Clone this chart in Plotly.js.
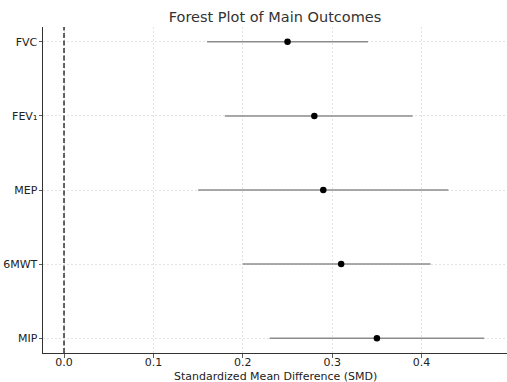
<!DOCTYPE html>
<html><head><meta charset="utf-8">
<script src="https://cdn.plot.ly/plotly-3.0.1.min.js"></script>
<style>html,body{margin:0;padding:0;background:#fff}</style>
</head><body>
<div id="chart" style="width:507px;height:382px"></div>
<script>
const outcomes = ['FVC', 'FEV\u2081', 'MEP', '6MWT', 'MIP'];
const smd = [0.25, 0.28, 0.29, 0.31, 0.35];
const ciLow = [0.16, 0.18, 0.15, 0.20, 0.23];
const ciHigh = [0.34, 0.39, 0.43, 0.41, 0.47];
const xTicks = [0.0, 0.1, 0.2, 0.3, 0.4];
const xTitle = 'Standardized Mean Difference (SMD)';

const font = "DejaVu Sans";
const ciTraces = outcomes.map((o, i) => ({
  type: 'scatter', mode: 'lines',
  x: [ciLow[i], ciHigh[i]], y: [o, o],
  line: {color: '#8c8c8c', width: 1.5},
  hoverinfo: 'skip', showlegend: false
}));
const pts = {
  type: 'scatter', mode: 'markers',
  x: smd, y: outcomes,
  marker: {color: '#000', size: 6.5},
  showlegend: false
};
const layout = {
  width: 507, height: 382,
  margin: {l: 43, r: 0, t: 27, b: 29},
  paper_bgcolor: '#fff', plot_bgcolor: '#fff',
  title: {text: 'Forest Plot of Main Outcomes', font: {family: font, size: 14.5, color: '#333'}, xref: 'paper', x: 0.5, xanchor: 'center', y: 0.955, yanchor: 'middle'},
  font: {family: font, size: 11, color: '#222'},
  xaxis: {
    range: [-0.0235, 0.4955],
    tickvals: xTicks, ticktext: xTicks.map(v => v.toFixed(1)),
    ticks: 'outside', ticklen: 3.5, tickcolor: '#333', tickwidth: 0.8,
    ticklabelstandoff: -5,
    tickfont: {family: font, size: 11, color: '#222'},
    showgrid: true, gridcolor: '#dcdcdc', griddash: '2px,2px', gridwidth: 0.8,
    showline: true, linecolor: '#333', linewidth: 1,
    zeroline: false
  },
  yaxis: {
    type: 'category',
    categoryorder: 'array', categoryarray: outcomes.slice().reverse(),
    range: [-0.2, 4.2],
    ticks: 'outside', ticklen: 3.5, tickcolor: '#333', tickwidth: 0.8,
    ticklabelstandoff: -1,
    tickfont: {family: font, size: 11, color: '#222'},
    showgrid: true, gridcolor: '#dcdcdc', griddash: '2px,2px', gridwidth: 0.8,
    showline: true, linecolor: '#333', linewidth: 1,
    zeroline: false
  },
  annotations: [{text: xTitle, xref: 'paper', yref: 'paper', x: 0.5, y: -0.0706,
    xanchor: 'center', yanchor: 'middle', showarrow: false,
    font: {family: font, size: 11, color: '#222'}}],
  shapes: [{type: 'line', xref: 'x', yref: 'paper', x0: 0, x1: 0, y0: 0, y1: 1,
    line: {color: '#111', width: 1.3, dash: '5px,2.5px'}}]
};
Plotly.newPlot('chart', [...ciTraces, pts], layout, {displayModeBar: false, staticPlot: true});
</script>
</body></html>
